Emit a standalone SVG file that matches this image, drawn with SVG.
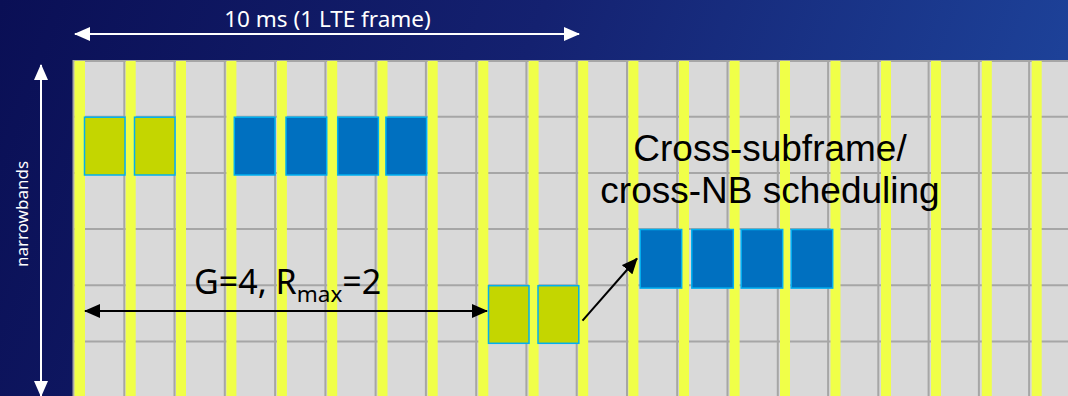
<svg xmlns="http://www.w3.org/2000/svg" width="1068" height="396" viewBox="0 0 1068 396">
  <defs>
    <linearGradient id="bg" x1="0" y1="0" x2="1068" y2="396" gradientUnits="userSpaceOnUse">
      <stop offset="0" stop-color="#0a0f55"/>
      <stop offset="0.45" stop-color="#142170"/>
      <stop offset="1" stop-color="#1f49a2"/>
    </linearGradient>
    <marker id="wh" viewBox="0 0 16 14" refX="15" refY="7" markerWidth="16" markerHeight="14" markerUnits="userSpaceOnUse" orient="auto-start-reverse">
      <path d="M0,0 L16,7 L0,14 Z" fill="#ffffff"/>
    </marker>
    <marker id="bk" viewBox="0 0 16 14" refX="15" refY="7" markerWidth="16" markerHeight="14" markerUnits="userSpaceOnUse" orient="auto-start-reverse">
      <path d="M0,0 L16,7 L0,14 Z" fill="#000000"/>
    </marker>
    <style>
      .cell { fill: #d9d9d9; }
      .gl { stroke: #a6a6a6; stroke-width: 2; fill: none; }
      .yl { fill: #f0ff48; }
      .grn { fill: #c4d600; stroke: #00b0f0; stroke-width: 1.5; }
      .blu { fill: #0070c0; stroke: #00b0f0; stroke-width: 1.5; }
      .wt { font-family: "Noto Sans", "Open Sans", "Liberation Sans", sans-serif; fill: #ffffff; }
      .bt { font-family: "Noto Sans", "Open Sans", "Liberation Sans", sans-serif; fill: #000000; }
      .bl { font-family: "Liberation Sans", Arial, sans-serif; fill: #000000; }
      .wa { stroke: #ffffff; stroke-width: 2; fill: none; }
      .ba { stroke: #000000; stroke-width: 2; fill: none; }
    </style>
  </defs>

  <rect x="0" y="0" width="1068" height="396" fill="url(#bg)"/>

  <g id="grid">
    <rect class="cell" x="73" y="60" width="995" height="336"/>
    <g class="gl">
      <path d="M73,61 H1068 M73,116.7 H1068 M73,172.9 H1068 M73,229.1 H1068 M73,285.3 H1068 M73,341.5 H1068"/>
      <path d="M73.5,60 V396 M124.3,60 V396 M174.5,60 V396 M224.8,60 V396 M275.1,60 V396 M325.4,60 V396 M375.6,60 V396 M425.9,60 V396 M476.2,60 V396 M526.4,60 V396 M576.7,60 V396 M627,60 V396 M677.2,60 V396 M727.5,60 V396 M777.8,60 V396 M828.1,60 V396 M878.3,60 V396 M928.6,60 V396 M978.9,60 V396 M1029.1,60 V396"/>
    </g>
    <g class="yl">
      <rect x="74.5" y="61" width="10.5" height="335"/>
      <rect x="125.7" y="61" width="10" height="335"/>
      <rect x="176" y="61" width="10" height="335"/>
      <rect x="226.4" y="61" width="10" height="335"/>
      <rect x="276.9" y="61" width="10" height="335"/>
      <rect x="327.2" y="61" width="10" height="335"/>
      <rect x="377.5" y="61" width="10" height="335"/>
      <rect x="427.7" y="61" width="10" height="335"/>
      <rect x="478.3" y="61" width="10" height="335"/>
      <rect x="528.6" y="61" width="10" height="335"/>
      <rect x="578.2" y="61" width="10" height="335"/>
      <rect x="628.4" y="61" width="10" height="335"/>
      <rect x="679" y="61" width="10" height="335"/>
      <rect x="729.6" y="61" width="10" height="335"/>
      <rect x="780" y="61" width="10" height="335"/>
      <rect x="830.5" y="61" width="10" height="335"/>
      <rect x="881" y="61" width="10" height="335"/>
      <rect x="931" y="61" width="10" height="335"/>
      <rect x="981.8" y="61" width="10" height="335"/>
      <rect x="1031.7" y="61" width="10" height="335"/>
    </g>
  </g>

  <g id="nb1-green">
    <rect class="grn" x="84.5" y="117.2" width="40.5" height="57.8"/>
    <rect class="grn" x="134.5" y="117.2" width="40.5" height="57.8"/>
  </g>
  <g id="nb1-blue">
    <rect class="blu" x="234.3" y="117.2" width="40.7" height="57.8"/>
    <rect class="blu" x="286" y="117.2" width="40.7" height="57.8"/>
    <rect class="blu" x="337.7" y="117.2" width="40.7" height="57.8"/>
    <rect class="blu" x="385.9" y="117.2" width="40.7" height="57.8"/>
  </g>
  <g id="nb4-green">
    <rect class="grn" x="488.5" y="285.7" width="40.5" height="57.6"/>
    <rect class="grn" x="538" y="285.7" width="40.8" height="57.6"/>
  </g>
  <g id="nb3-blue">
    <rect class="blu" x="640.2" y="229.5" width="41.5" height="58.6"/>
    <rect class="blu" x="691.8" y="229.5" width="41.5" height="58.6"/>
    <rect class="blu" x="741.2" y="229.5" width="41.5" height="58.6"/>
    <rect class="blu" x="791.2" y="229.5" width="41.5" height="58.6"/>
  </g>

  <g id="connectors">
    <line class="wa" x1="75" y1="34" x2="579" y2="34" marker-start="url(#wh)" marker-end="url(#wh)"/>
    <line class="wa" x1="41" y1="65" x2="41" y2="396" marker-start="url(#wh)" marker-end="url(#wh)"/>
    <line class="ba" x1="85" y1="311" x2="487" y2="311" marker-start="url(#bk)" marker-end="url(#bk)"/>
    <line class="ba" x1="582.5" y1="320.7" x2="637" y2="258.5" marker-end="url(#bk)"/>
  </g>

  <g id="label-frame">
    <text class="wt" x="327.5" y="27" font-size="22.5" text-anchor="middle">10 ms (1 LTE frame)</text>
  </g>
  <g id="label-narrowbands">
    <text class="wt" x="28" y="214" font-size="17" text-anchor="middle" transform="rotate(-90 28 214)">narrowbands</text>
  </g>
  <g id="label-g">
    <text class="bt" x="194" y="293.5" font-size="34">G=4, R<tspan font-size="22.5" dy="8.5">max</tspan><tspan dy="-8.5">=2</tspan></text>
  </g>
  <g id="label-cross">
    <text class="bl" x="770" y="161" font-size="37" text-anchor="middle">Cross-subframe/</text>
    <text class="bl" x="770" y="203" font-size="37" text-anchor="middle">cross-NB scheduling</text>
  </g>
</svg>
